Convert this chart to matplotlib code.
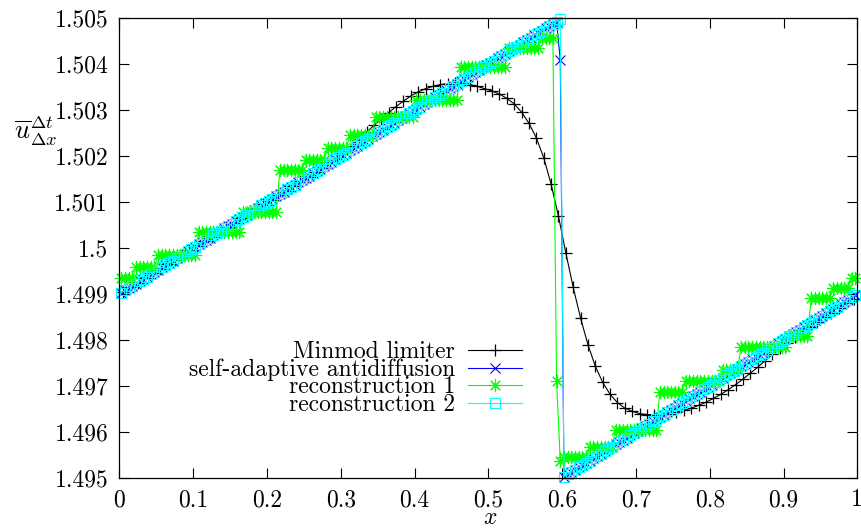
import numpy as np
import matplotlib
matplotlib.use('Agg')
import matplotlib.pyplot as plt

plt.rcParams['font.family'] = 'cmr10'
plt.rcParams['mathtext.fontset'] = 'cm'
plt.rcParams['axes.formatter.use_mathtext'] = True

# cell centres: 100 cells for minmod, 200 cells for the other runs
x_minmod = np.linspace(0.005, 0.995, 100)
x_cells = np.linspace(0.0025, 0.9975, 200)

minmod = [
    1.49905, 1.49915, 1.49925, 1.49935, 1.49945, 1.49955, 1.49965, 1.49975, 1.49985, 1.49995,
    1.50005, 1.50015, 1.50025, 1.50035, 1.50045, 1.50055, 1.50065, 1.50075, 1.50085, 1.50095,
    1.50105, 1.50115, 1.50125, 1.50135, 1.50145, 1.50155, 1.50165, 1.50175, 1.50187, 1.50198,
    1.50210, 1.50223, 1.50237, 1.50252, 1.50267, 1.50281, 1.50295, 1.50308, 1.50320, 1.50331,
    1.50340, 1.50347, 1.50352, 1.50356, 1.50358, 1.50359, 1.50358, 1.50356, 1.50352, 1.50347,
    1.50342, 1.50335, 1.50326, 1.50314, 1.50296, 1.50272, 1.50240, 1.50197, 1.50140, 1.50070,
    1.49990, 1.49915, 1.49848, 1.49790, 1.49743, 1.49708, 1.49682, 1.49664, 1.49652, 1.49645,
    1.49640, 1.49638, 1.49637, 1.49638, 1.49640, 1.49643, 1.49647, 1.49652, 1.49658, 1.49665,
    1.49673, 1.49682, 1.49692, 1.49703, 1.49715, 1.49728, 1.49741, 1.49755, 1.49769, 1.49782,
    1.49794, 1.49806, 1.49817, 1.49828, 1.49839, 1.49850, 1.49860, 1.49870, 1.49880, 1.49890,
]

antidiff = [
    1.49903, 1.49908, 1.49913, 1.49918, 1.49923, 1.49928, 1.49933, 1.49938, 1.49943, 1.49948,
    1.49953, 1.49958, 1.49963, 1.49968, 1.49973, 1.49978, 1.49983, 1.49988, 1.49993, 1.49998,
    1.50003, 1.50008, 1.50013, 1.50018, 1.50023, 1.50028, 1.50033, 1.50038, 1.50043, 1.50048,
    1.50053, 1.50058, 1.50063, 1.50068, 1.50073, 1.50078, 1.50083, 1.50088, 1.50093, 1.50098,
    1.50103, 1.50108, 1.50113, 1.50118, 1.50123, 1.50128, 1.50133, 1.50138, 1.50143, 1.50148,
    1.50153, 1.50158, 1.50163, 1.50168, 1.50173, 1.50178, 1.50183, 1.50188, 1.50193, 1.50198,
    1.50203, 1.50208, 1.50213, 1.50218, 1.50223, 1.50228, 1.50233, 1.50238, 1.50243, 1.50248,
    1.50253, 1.50258, 1.50263, 1.50268, 1.50273, 1.50278, 1.50283, 1.50288, 1.50293, 1.50298,
    1.50303, 1.50308, 1.50313, 1.50318, 1.50323, 1.50328, 1.50333, 1.50338, 1.50343, 1.50348,
    1.50353, 1.50358, 1.50363, 1.50368, 1.50373, 1.50378, 1.50383, 1.50388, 1.50393, 1.50398,
    1.50403, 1.50408, 1.50413, 1.50418, 1.50423, 1.50428, 1.50433, 1.50438, 1.50443, 1.50448,
    1.50453, 1.50458, 1.50463, 1.50468, 1.50473, 1.50478, 1.50483, 1.50488, 1.50493, 1.50409,
    1.49503, 1.49508, 1.49513, 1.49518, 1.49523, 1.49528, 1.49533, 1.49538, 1.49543, 1.49548,
    1.49553, 1.49558, 1.49563, 1.49568, 1.49573, 1.49578, 1.49583, 1.49588, 1.49593, 1.49598,
    1.49603, 1.49608, 1.49613, 1.49618, 1.49623, 1.49628, 1.49633, 1.49638, 1.49643, 1.49648,
    1.49653, 1.49658, 1.49663, 1.49668, 1.49673, 1.49678, 1.49683, 1.49688, 1.49693, 1.49698,
    1.49703, 1.49708, 1.49713, 1.49718, 1.49723, 1.49728, 1.49733, 1.49738, 1.49743, 1.49748,
    1.49753, 1.49758, 1.49763, 1.49768, 1.49773, 1.49778, 1.49783, 1.49788, 1.49793, 1.49798,
    1.49803, 1.49808, 1.49813, 1.49818, 1.49823, 1.49828, 1.49833, 1.49838, 1.49843, 1.49848,
    1.49853, 1.49858, 1.49863, 1.49868, 1.49873, 1.49878, 1.49883, 1.49888, 1.49893, 1.49898,
]

recon1 = [
    1.49935, 1.49935, 1.49935, 1.49935, 1.49958, 1.49958, 1.49958, 1.49958, 1.49958, 1.49958,
    1.49985, 1.49985, 1.49985, 1.49985, 1.49985, 1.49985, 1.49985, 1.49985, 1.49985, 1.49985,
    1.49985, 1.50035, 1.50035, 1.50035, 1.50035, 1.50035, 1.50035, 1.50035, 1.50035, 1.50035,
    1.50035, 1.50035, 1.50035, 1.50078, 1.50078, 1.50078, 1.50078, 1.50078, 1.50078, 1.50078,
    1.50078, 1.50078, 1.50078, 1.50169, 1.50169, 1.50169, 1.50169, 1.50169, 1.50169, 1.50169,
    1.50192, 1.50192, 1.50192, 1.50192, 1.50192, 1.50192, 1.50218, 1.50218, 1.50218, 1.50218,
    1.50218, 1.50218, 1.50246, 1.50246, 1.50246, 1.50246, 1.50246, 1.50246, 1.50246, 1.50286,
    1.50286, 1.50286, 1.50286, 1.50286, 1.50286, 1.50286, 1.50286, 1.50286, 1.50286, 1.50286,
    1.50322, 1.50322, 1.50322, 1.50322, 1.50322, 1.50322, 1.50322, 1.50322, 1.50322, 1.50322,
    1.50322, 1.50322, 1.50395, 1.50395, 1.50395, 1.50395, 1.50395, 1.50395, 1.50395, 1.50395,
    1.50395, 1.50395, 1.50395, 1.50395, 1.50395, 1.50435, 1.50435, 1.50435, 1.50435, 1.50435,
    1.50435, 1.50435, 1.50435, 1.50435, 1.50457, 1.50457, 1.50457, 1.50457, 1.49710, 1.49536,
    1.49545, 1.49545, 1.49545, 1.49545, 1.49545, 1.49545, 1.49545, 1.49568, 1.49568, 1.49568,
    1.49568, 1.49568, 1.49568, 1.49568, 1.49605, 1.49605, 1.49605, 1.49605, 1.49605, 1.49605,
    1.49605, 1.49605, 1.49605, 1.49605, 1.49605, 1.49605, 1.49688, 1.49688, 1.49688, 1.49688,
    1.49688, 1.49688, 1.49688, 1.49710, 1.49710, 1.49710, 1.49710, 1.49710, 1.49710, 1.49710,
    1.49710, 1.49710, 1.49710, 1.49736, 1.49736, 1.49736, 1.49736, 1.49736, 1.49785, 1.49785,
    1.49785, 1.49785, 1.49785, 1.49785, 1.49785, 1.49785, 1.49785, 1.49785, 1.49785, 1.49785,
    1.49785, 1.49808, 1.49808, 1.49808, 1.49808, 1.49808, 1.49808, 1.49891, 1.49891, 1.49891,
    1.49891, 1.49891, 1.49891, 1.49913, 1.49913, 1.49913, 1.49913, 1.49913, 1.49935, 1.49935,
]

recon2 = [
    1.49903, 1.49908, 1.49913, 1.49918, 1.49923, 1.49928, 1.49933, 1.49938, 1.49943, 1.49948,
    1.49953, 1.49958, 1.49963, 1.49968, 1.49973, 1.49978, 1.49983, 1.49988, 1.49993, 1.49998,
    1.50003, 1.50008, 1.50013, 1.50018, 1.50023, 1.50028, 1.50033, 1.50038, 1.50043, 1.50048,
    1.50053, 1.50058, 1.50063, 1.50068, 1.50073, 1.50078, 1.50083, 1.50088, 1.50093, 1.50098,
    1.50103, 1.50108, 1.50113, 1.50118, 1.50123, 1.50128, 1.50133, 1.50138, 1.50143, 1.50148,
    1.50153, 1.50158, 1.50163, 1.50168, 1.50173, 1.50178, 1.50183, 1.50188, 1.50193, 1.50198,
    1.50203, 1.50208, 1.50213, 1.50218, 1.50223, 1.50228, 1.50233, 1.50238, 1.50243, 1.50248,
    1.50253, 1.50258, 1.50263, 1.50268, 1.50273, 1.50278, 1.50283, 1.50288, 1.50293, 1.50298,
    1.50303, 1.50308, 1.50313, 1.50318, 1.50323, 1.50328, 1.50333, 1.50338, 1.50343, 1.50348,
    1.50353, 1.50358, 1.50363, 1.50368, 1.50373, 1.50378, 1.50383, 1.50388, 1.50393, 1.50398,
    1.50403, 1.50408, 1.50413, 1.50418, 1.50423, 1.50428, 1.50433, 1.50438, 1.50443, 1.50448,
    1.50453, 1.50458, 1.50463, 1.50468, 1.50473, 1.50478, 1.50483, 1.50488, 1.50493, 1.50498,
    1.49503, 1.49508, 1.49513, 1.49518, 1.49523, 1.49528, 1.49533, 1.49538, 1.49543, 1.49548,
    1.49553, 1.49558, 1.49563, 1.49568, 1.49573, 1.49578, 1.49583, 1.49588, 1.49593, 1.49598,
    1.49603, 1.49608, 1.49613, 1.49618, 1.49623, 1.49628, 1.49633, 1.49638, 1.49643, 1.49648,
    1.49653, 1.49658, 1.49663, 1.49668, 1.49673, 1.49678, 1.49683, 1.49688, 1.49693, 1.49698,
    1.49703, 1.49708, 1.49713, 1.49718, 1.49723, 1.49728, 1.49733, 1.49738, 1.49743, 1.49748,
    1.49753, 1.49758, 1.49763, 1.49768, 1.49773, 1.49778, 1.49783, 1.49788, 1.49793, 1.49798,
    1.49803, 1.49808, 1.49813, 1.49818, 1.49823, 1.49828, 1.49833, 1.49838, 1.49843, 1.49848,
    1.49853, 1.49858, 1.49863, 1.49868, 1.49873, 1.49878, 1.49883, 1.49888, 1.49893, 1.49898,
]

series_labels = ['Minmod limiter', 'self-adaptive antidiffusion',
                 'reconstruction 1', 'reconstruction 2']

xtick_vals = [0, 0.1, 0.2, 0.3, 0.4, 0.5, 0.6, 0.7, 0.8, 0.9, 1]
xtick_labels = ['0', '0.1', '0.2', '0.3', '0.4', '0.5', '0.6', '0.7', '0.8', '0.9', '1']
ytick_vals = [1.495, 1.496, 1.497, 1.498, 1.499, 1.5, 1.501, 1.502, 1.503, 1.504, 1.505]
ytick_labels = ['1.495', '1.496', '1.497', '1.498', '1.499', '1.5',
                '1.501', '1.502', '1.503', '1.504', '1.505']

fig = plt.figure(figsize=(8.61, 5.29), dpi=100)
ax = fig.add_axes([0.1386, 0.0964, 0.8571, 0.869])

ax.plot(x_minmod, minmod, color='black', lw=0.8, marker='+', ms=8, mew=0.9,
        label=series_labels[0], clip_on=False)
ax.plot(x_cells, antidiff, color='#0000ff', lw=0.8, marker='x', ms=7.5, mew=0.8,
        label=series_labels[1], clip_on=False)
ax.plot(x_cells, recon1, color='#00ff00', lw=0.8, marker=(8, 2, 0), ms=9.5, mew=0.8,
        label=series_labels[2], clip_on=False)
ax.plot(x_cells, recon2, color='#00ffff', lw=0.8, marker='s', ms=7, mew=0.8,
        mfc='none', label=series_labels[3], clip_on=False)

ax.set_xlim(0, 1)
ax.set_ylim(1.495, 1.505)
ax.set_xticks(xtick_vals, xtick_labels)
ax.set_yticks(ytick_vals, ytick_labels)
ax.tick_params(direction='in', length=7, width=0.8, top=True, right=True,
               labelsize=17, pad=8, colors='black')
for sp in ax.spines.values():
    sp.set_linewidth(0.9)

leg = ax.legend(loc='center right', bbox_to_anchor=(534 / 861, 1 - 378.5 / 529),
                bbox_transform=fig.transFigure, frameon=False, markerfirst=False,
                fontsize=17, handlelength=2.3, handletextpad=0.55,
                labelspacing=-0.2, borderpad=0, numpoints=1)

fig.text(36 / 861, 1 - 131 / 529, r'$\overline{u}^{\Delta t}_{\Delta x}$',
         fontsize=19, ha='center', va='center')
fig.text(490 / 861, 1 - 518 / 529, r'$x$', fontsize=17, ha='center', va='center')

fig.savefig('out.png', dpi=100)
